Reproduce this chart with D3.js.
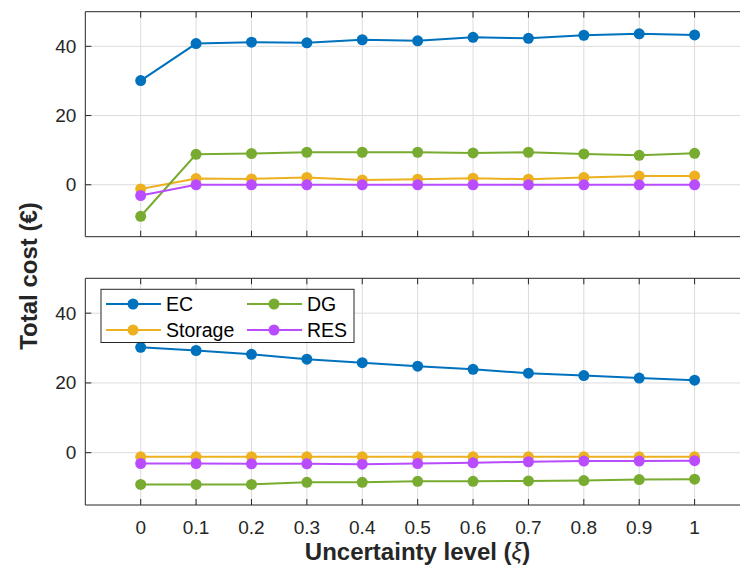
<!DOCTYPE html>
<html>
<head>
<meta charset="utf-8">
<script src="https://cdn.jsdelivr.net/npm/d3@7"></script>
<style>
  html, body { margin: 0; padding: 0; background: #fff; }
  svg { display: block; font-family: "Liberation Sans", Arial, Helvetica, sans-serif; }
</style>
</head>
<body>
<svg id="chart" width="740" height="572"></svg>
<script>
// ---- data ----
const xLevels = [0, 0.1, 0.2, 0.3, 0.4, 0.5, 0.6, 0.7, 0.8, 0.9, 1];
const xTickLabels = ["0", "0.1", "0.2", "0.3", "0.4", "0.5", "0.6", "0.7", "0.8", "0.9", "1"];
const yTicks = [0, 20, 40];
const seriesNames = ["EC", "Storage", "DG", "RES"];
const seriesColors = ["#0072BD", "#EDB120", "#77AC30", "#BA4CFF"];

// top panel
const topEC      = [30.1, 40.8, 41.2, 41.0, 41.9, 41.6, 42.6, 42.3, 43.2, 43.6, 43.3];
const topStorage = [-1.2, 1.8, 1.7, 2.1, 1.4, 1.6, 1.9, 1.6, 2.1, 2.5, 2.5];
const topDG      = [-9.1, 8.8, 9.0, 9.4, 9.4, 9.4, 9.2, 9.4, 8.9, 8.5, 9.1];
const topRES     = [-3.1, 0, 0, 0, 0, 0, 0, 0, 0, 0, 0];

// bottom panel
const botEC      = [30.2, 29.3, 28.2, 26.8, 25.8, 24.8, 23.9, 22.8, 22.1, 21.4, 20.8];
const botStorage = [-1.2, -1.2, -1.2, -1.2, -1.2, -1.2, -1.2, -1.2, -1.2, -1.2, -1.2];
const botDG      = [-9.1, -9.1, -9.1, -8.5, -8.5, -8.2, -8.2, -8.1, -8.0, -7.7, -7.6];
const botRES     = [-3.1, -3.1, -3.2, -3.2, -3.3, -3.1, -2.9, -2.6, -2.4, -2.4, -2.3];

const yDomain = [-15, 50];
const xDomain = [-0.1, 1.1];

// ---- layout ----
const svg = d3.select("#chart");
const left = 85.3, right = 750;
const x = d3.scaleLinear().domain(xDomain).range([left, right]);

const panels = [
  { top: 11.7, bottom: 236.7, data: [topEC, topStorage, topDG, topRES], legend: false, xLabels: false },
  { top: 278.3, bottom: 505, data: [botEC, botStorage, botDG, botRES], legend: true, xLabels: true }
];

const axisColor = "#262626";
const gridColor = "#dcdcdc";
const tickLen = 6;

panels.forEach(p => {
  const y = d3.scaleLinear().domain(yDomain).range([p.bottom, p.top]);
  const g = svg.append("g");

  // grid
  g.selectAll(".vg").data(xLevels).join("line")
    .attr("x1", d => x(d)).attr("x2", d => x(d))
    .attr("y1", p.top).attr("y2", p.bottom)
    .attr("stroke", gridColor).attr("stroke-width", 1);
  g.selectAll(".hg").data(yTicks).join("line")
    .attr("x1", left).attr("x2", 740)
    .attr("y1", d => y(d)).attr("y2", d => y(d))
    .attr("stroke", gridColor).attr("stroke-width", 1);

  // box (top, left, bottom)
  g.append("line").attr("x1", left).attr("x2", 740).attr("y1", p.top).attr("y2", p.top)
    .attr("stroke", axisColor).attr("stroke-width", 1);
  g.append("line").attr("x1", left).attr("x2", 740).attr("y1", p.bottom).attr("y2", p.bottom)
    .attr("stroke", axisColor).attr("stroke-width", 1);
  g.append("line").attr("x1", left).attr("x2", left).attr("y1", p.top).attr("y2", p.bottom)
    .attr("stroke", axisColor).attr("stroke-width", 1);

  // ticks inward
  g.selectAll(".xtb").data(xLevels).join("line")
    .attr("x1", d => x(d)).attr("x2", d => x(d))
    .attr("y1", p.bottom).attr("y2", p.bottom - tickLen)
    .attr("stroke", axisColor);
  g.selectAll(".xtt").data(xLevels).join("line")
    .attr("x1", d => x(d)).attr("x2", d => x(d))
    .attr("y1", p.top).attr("y2", p.top + tickLen)
    .attr("stroke", axisColor);
  g.selectAll(".yt").data(yTicks).join("line")
    .attr("x1", left).attr("x2", left + tickLen)
    .attr("y1", d => y(d)).attr("y2", d => y(d))
    .attr("stroke", axisColor);

  // y tick labels
  g.selectAll(".ytl").data(yTicks).join("text")
    .attr("x", left - 9).attr("y", d => y(d))
    .attr("text-anchor", "end").attr("dominant-baseline", "central")
    .attr("font-size", 19).attr("fill", axisColor)
    .text(d => d);

  if (p.xLabels) {
    g.selectAll(".xtl").data(xLevels).join("text")
      .attr("x", d => x(d)).attr("y", 533.5)
      .attr("text-anchor", "middle")
      .attr("font-size", 19).attr("fill", axisColor)
      .text((d, i) => xTickLabels[i]);
  }

  // series
  const line = d3.line().x((d, i) => x(xLevels[i])).y(d => y(d));
  p.data.forEach((vals, si) => {
    g.append("path").datum(vals)
      .attr("d", line).attr("fill", "none")
      .attr("stroke", seriesColors[si]).attr("stroke-width", 2);
    g.selectAll(null).data(vals).join("circle")
      .attr("cx", (d, i) => x(xLevels[i])).attr("cy", d => y(d))
      .attr("r", 5.5).attr("fill", seriesColors[si]);
  });

  if (p.legend) {
    const lg = svg.append("g");
    lg.append("rect").attr("x", 101).attr("y", 289.3).attr("width", 253).attr("height", 53.2)
      .attr("fill", "#fff").attr("stroke", axisColor).attr("stroke-width", 1);
    const order = [0, 2, 1, 3]; // EC, DG / Storage, RES
    order.forEach((si, k) => {
      const col = k % 2, row = Math.floor(k / 2);
      const x0 = col === 0 ? 106 : 247;
      const yy = row === 0 ? 304 : 330;
      lg.append("line").attr("x1", x0).attr("x2", x0 + 55).attr("y1", yy).attr("y2", yy)
        .attr("stroke", seriesColors[si]).attr("stroke-width", 2);
      lg.append("circle").attr("cx", x0 + 27).attr("cy", yy).attr("r", 5.5).attr("fill", seriesColors[si]);
      lg.append("text").attr("x", x0 + 60).attr("y", yy).attr("dominant-baseline", "central")
        .attr("font-size", 19.5).attr("fill", "#000").text(seriesNames[si]);
    });
  }
});

// axis titles
svg.append("text")
  .attr("x", 417.6).attr("y", 560)
  .attr("text-anchor", "middle").attr("font-size", 24).attr("font-weight", "bold")
  .attr("fill", axisColor)
  .html('Uncertainty level (<tspan font-style="italic" font-weight="normal">ξ</tspan>)');

svg.append("text")
  .attr("transform", "translate(36.5,276) rotate(-90)")
  .attr("text-anchor", "middle").attr("font-size", 24).attr("font-weight", "bold")
  .attr("fill", axisColor)
  .text("Total cost (€)");
</script>
</body>
</html>
